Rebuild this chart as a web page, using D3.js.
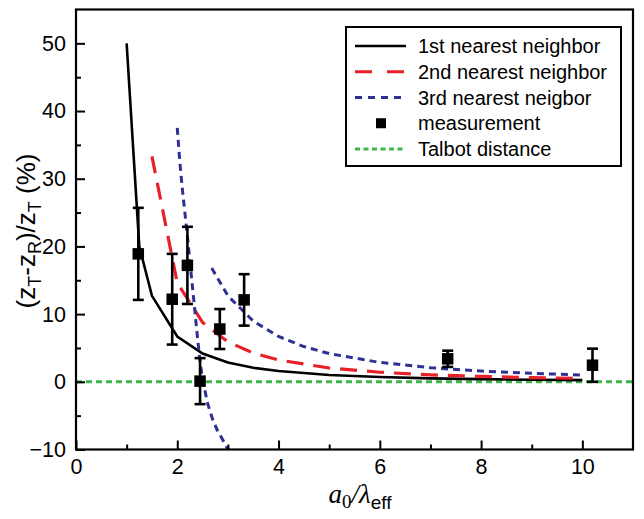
<!DOCTYPE html>
<html>
<head>
<meta charset="utf-8">
<script src="https://cdn.jsdelivr.net/npm/d3@7/dist/d3.min.js"></script>
<style>
  html, body { margin: 0; padding: 0; background: #fff; }
  svg { display: block; }
  text { font-family: "Liberation Sans", Arial, sans-serif; fill: #000; }
</style>
</head>
<body>
<svg id="chart" width="644" height="519"></svg>
<script>
// ---------- data ----------
const firstX  = [1.0, 1.25, 1.5, 2.0, 2.5, 3.0, 3.5, 4.0, 5.0, 6.0, 7.0, 8.0, 9.0, 10.0];
const firstY  = [50.0, 20.0, 12.7, 6.7, 4.17, 2.86, 2.08, 1.59, 1.01, 0.70, 0.51, 0.39, 0.31, 0.25];

const secondX = [1.5, 2.0, 2.5, 3.0, 3.5, 4.0, 5.0, 6.0, 7.0, 8.0, 9.0, 10.0];
const secondY = [33.3, 14.6, 8.77, 5.9, 4.26, 3.23, 2.04, 1.41, 1.03, 0.79, 0.62, 0.50];

const thirdAX = [2.0, 2.05, 2.1, 2.15, 2.2, 2.25, 2.3, 2.35, 2.4, 2.45, 2.5, 2.6, 2.7, 2.8, 2.9, 3.0];
const thirdAY = [37.5, 32.5, 28.5, 25.0, 21.5, 17.8, 14.0, 10.3, 6.5, 3.0, 0.3, -3.2, -5.6, -7.3, -8.6, -10.0];
const thirdBX = [2.68, 3.0, 3.5, 4.0, 4.5, 5.0, 6.0, 7.0, 8.0, 9.0, 10.0];
const thirdBY = [16.8, 12.7, 8.97, 6.70, 5.21, 4.17, 2.86, 2.08, 1.59, 1.25, 1.01];

const measX   = [1.23, 1.90, 2.20, 2.45, 2.84, 3.32, 7.34, 10.2];
const measY   = [18.9, 12.2, 17.2, 0.1, 7.8, 12.1, 3.4, 2.45];
const measErr = [6.8, 6.7, 5.7, 3.4, 2.95, 3.8, 1.2, 2.45];

const talbotX = [0, 11];
const talbotY = [0, 0];

const xTicks = [0, 2, 4, 6, 8, 10];
const xMinor = [1, 3, 5, 7, 9];
const yTicks = [-10, 0, 10, 20, 30, 40, 50];
const yMinor = [-5, 5, 15, 25, 35, 45];

const legendLabels = ["1st nearest neighbor", "2nd nearest neighbor", "3rd nearest neigbor", "measurement", "Talbot distance"];

// ---------- layout ----------
const svg = d3.select("#chart");
const L = 76, R = 633, T = 9.5, B = 449.5;
const x = d3.scaleLinear().domain([0, 11]).range([L, R]);
const y = d3.scaleLinear().domain([-10, 55]).range([B, T]);

const cRed = "#e8202a", cBlue = "#2e3192", cGreen = "#3cb54a";

svg.append("defs").append("clipPath").attr("id", "clip")
  .append("rect").attr("x", L).attr("y", T).attr("width", R - L).attr("height", B - T);

const plot = svg.append("g").attr("clip-path", "url(#clip)");
const line = d3.line().x(d => x(d[0])).y(d => y(d[1]));
const zip = (a, b) => a.map((v, i) => [v, b[i]]);

// Talbot line
plot.append("path").datum(zip(talbotX, talbotY)).attr("d", line)
  .attr("fill", "none").attr("stroke", cGreen).attr("stroke-width", 3).attr("stroke-dasharray", "6,4");

// curves
plot.append("path").datum(zip(firstX, firstY)).attr("d", line)
  .attr("fill", "none").attr("stroke", "#000").attr("stroke-width", 2.6);
plot.append("path").datum(zip(secondX, secondY)).attr("d", line)
  .attr("fill", "none").attr("stroke", cRed).attr("stroke-width", 3.2).attr("stroke-dasharray", "17,10");
plot.append("path").datum(zip(thirdAX, thirdAY)).attr("d", line)
  .attr("fill", "none").attr("stroke", cBlue).attr("stroke-width", 3).attr("stroke-dasharray", "7,5");
plot.append("path").datum(zip(thirdBX, thirdBY)).attr("d", line)
  .attr("fill", "none").attr("stroke", cBlue).attr("stroke-width", 3).attr("stroke-dasharray", "7,5");

// measurements
const meas = measX.map((v, i) => ({ x: v, y: measY[i], e: measErr[i] }));
const mg = svg.append("g");
const cap = 5.5, ms = 11.5;
meas.forEach(d => {
  const g = mg.append("g");
  g.append("line").attr("x1", x(d.x)).attr("x2", x(d.x)).attr("y1", y(d.y - d.e)).attr("y2", y(d.y + d.e))
    .attr("stroke", "#000").attr("stroke-width", 2.6);
  [d.y - d.e, d.y + d.e].forEach(v => {
    g.append("line").attr("x1", x(d.x) - cap).attr("x2", x(d.x) + cap).attr("y1", y(v)).attr("y2", y(v))
      .attr("stroke", "#000").attr("stroke-width", 2.6);
  });
  g.append("rect").attr("x", x(d.x) - ms / 2).attr("y", y(d.y) - ms / 2).attr("width", ms).attr("height", ms).attr("fill", "#000");
});

// axes frame
svg.append("rect").attr("x", L).attr("y", T).attr("width", R - L).attr("height", B - T)
  .attr("fill", "none").attr("stroke", "#000").attr("stroke-width", 2.2);

// x axis ticks (inward)
const xAxis = d3.axisBottom(x).tickValues(xTicks).tickSize(-9).tickPadding(9).tickFormat(d3.format("d"));
const gx = svg.append("g").attr("transform", `translate(0,${B})`).call(xAxis);
gx.select(".domain").remove();
gx.selectAll(".tick line").attr("stroke", "#000").attr("stroke-width", 2);
gx.selectAll(".tick text").attr("font-size", 21.5).attr("font-family", "Liberation Sans, Arial, sans-serif").attr("fill", "#000");
const gxm = svg.append("g").attr("transform", `translate(0,${B})`).call(d3.axisBottom(x).tickValues(xMinor).tickSize(-5).tickFormat(""));
gxm.select(".domain").remove();
gxm.selectAll(".tick line").attr("stroke", "#000").attr("stroke-width", 2);

// y axis ticks (inward)
const yAxis = d3.axisLeft(y).tickValues(yTicks).tickSize(-9).tickPadding(10).tickFormat(d3.format("d"));
const gy = svg.append("g").attr("transform", `translate(${L},0)`).call(yAxis);
gy.select(".domain").remove();
gy.selectAll(".tick line").attr("stroke", "#000").attr("stroke-width", 2);
gy.selectAll(".tick text").attr("font-size", 21.5).attr("font-family", "Liberation Sans, Arial, sans-serif").attr("fill", "#000");
const gym = svg.append("g").attr("transform", `translate(${L},0)`).call(d3.axisLeft(y).tickValues(yMinor).tickSize(-5).tickFormat(""));
gym.select(".domain").remove();
gym.selectAll(".tick line").attr("stroke", "#000").attr("stroke-width", 2);

// y label
const yl = svg.append("text").attr("transform", "translate(35,231) rotate(-90)")
  .attr("text-anchor", "middle").attr("font-size", 26);
yl.append("tspan").text("(z");
yl.append("tspan").attr("font-size", 18).attr("dy", 6).text("T");
yl.append("tspan").attr("dy", -6).text("-z");
yl.append("tspan").attr("font-size", 18).attr("dy", 6).text("R");
yl.append("tspan").attr("dy", -6).text(")/z");
yl.append("tspan").attr("font-size", 18).attr("dy", 6).text("T");
yl.append("tspan").attr("dy", -6).text(" (%)");

// x label
const xl = svg.append("text").attr("x", 360).attr("y", 503).attr("text-anchor", "middle").attr("font-size", 27);
xl.append("tspan").attr("font-family", "Liberation Serif, Times New Roman, serif").attr("font-style", "italic").text("a");
xl.append("tspan").attr("font-family", "Liberation Serif, Times New Roman, serif").attr("font-size", 19).attr("dy", 5).text("0");
xl.append("tspan").attr("font-family", "Liberation Serif, Times New Roman, serif").attr("font-style", "italic").attr("dy", -5).text("/λ");
xl.append("tspan").attr("font-size", 19).attr("dy", 6).text("eff");

// legend
const lg = svg.append("g");
lg.append("rect").attr("x", 346).attr("y", 27).attr("width", 275).attr("height", 139)
  .attr("fill", "#fff").attr("stroke", "#000").attr("stroke-width", 2);
const rowY = d3.scalePoint().domain(legendLabels).range([46, 149]);
const styles = [
  { stroke: "#000", w: 2.6, dash: null },
  { stroke: cRed, w: 3.2, dash: "17,15" },
  { stroke: cBlue, w: 3, dash: "7,6" },
  null,
  { stroke: cGreen, w: 3, dash: "5,3.5" }
];
legendLabels.forEach((lab, i) => {
  const yy = rowY(lab);
  const s = styles[i];
  if (s) {
    lg.append("line").attr("x1", 355).attr("x2", 406).attr("y1", yy).attr("y2", yy)
      .attr("stroke", s.stroke).attr("stroke-width", s.w).attr("stroke-dasharray", s.dash);
  } else {
    lg.append("rect").attr("x", 381 - 5).attr("y", yy - 5).attr("width", 10).attr("height", 10).attr("fill", "#000");
  }
  lg.append("text").attr("x", 418).attr("y", yy).attr("dy", "0.35em").attr("font-size", 20).text(lab);
});
</script>
</body>
</html>
